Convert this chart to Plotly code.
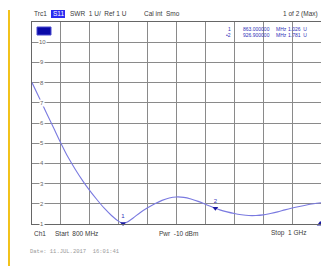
import plotly.graph_objects as go

# ---- data ----
freq_mhz = [800, 805, 810, 815, 820, 825, 830, 835, 840, 845, 850, 855, 860, 863,
            866, 870, 875, 880, 885, 890, 895, 900, 905, 910, 915, 920, 926.9, 930,
            935, 940, 945, 950, 955, 960, 965, 970, 975, 980, 985, 990, 995, 1000]
swr = [8.0, 7.25, 6.5, 5.75, 5.0, 4.3, 3.7, 3.15, 2.65, 2.2, 1.78, 1.42, 1.13, 1.026,
       1.1, 1.3, 1.57, 1.8, 2.0, 2.17, 2.29, 2.34, 2.32, 2.24, 2.12, 1.98, 1.781, 1.7,
       1.6, 1.52, 1.46, 1.42, 1.42, 1.45, 1.52, 1.6, 1.7, 1.79, 1.87, 1.94, 2.0, 2.05]
marker_ids = ["1", "2"]
marker_freq = [863.0, 926.9]
marker_swr = [1.026, 1.781]
marker_freq_text = ["863.000000", "926.900000"]
marker_unit_text = ["MHz", "MHz"]
marker_swr_text = ["1.026  U", "1.781  U"]
y_ticks = [1, 2, 3, 4, 5, 6, 7, 8, 9, 10]
edge_marker_freq = [999.5]
edge_marker_swr = [1.0]

W, H = 321, 266
L, R, T, B = 32, 0, 22, 42
PW, PH = W - L - R, H - T - B


def px(x):
    return (x - L) / PW


def py(y):
    return (H - B - y) / PH


FONT = "Liberation Sans, Arial, sans-serif"
MONO = "Liberation Mono, DejaVu Sans Mono, monospace"
DARK = "#3a3a3a"
BLUE = "#3030b8"

fig = go.Figure()
fig.add_trace(go.Scatter(x=freq_mhz, y=swr, mode="lines",
                         line=dict(color="#7a7ae0", width=1.1, shape="spline", smoothing=0.8),
                         hoverinfo="skip", showlegend=False))
fig.add_trace(go.Scatter(x=marker_freq, y=marker_swr, mode="markers+text",
                         text=marker_ids, textposition="top center",
                         textfont=dict(size=6, color=BLUE, family=FONT),
                         marker=dict(symbol="triangle-down", size=5, color="#1a1aa0"),
                         cliponaxis=False, showlegend=False))
fig.add_trace(go.Scatter(x=edge_marker_freq, y=edge_marker_swr, mode="markers",
                         marker=dict(symbol="triangle-up", size=6, color="#1a1aa0"),
                         cliponaxis=False, showlegend=False))

annotations = []
# y tick labels drawn inside the grid
for v in y_ticks:
    annotations.append(dict(x=px(42), y=v, xref="paper", yref="y", text=str(v),
                            showarrow=False, xanchor="center", yanchor="middle",
                            bgcolor="white", borderpad=0,
                            font=dict(size=6, color="#666666", family=FONT)))
n_tick = len(annotations)
# header / footer
annotations += [
    dict(x=px(32), y=py(14), text="Trc1", xanchor="left"),
    dict(x=px(68), y=py(14), text="SWR  1 U/  Ref 1 U", xanchor="left"),
    dict(x=px(142), y=py(14), text="Cal int  Smo", xanchor="left"),
    dict(x=px(320), y=py(14), text="1 of 2 (Max)", xanchor="right"),
    dict(x=px(32), y=py(233), text="Ch1", xanchor="left"),
    dict(x=px(53), y=py(233), text="Start  800 MHz", xanchor="left"),
    dict(x=px(157), y=py(233), text="Pwr  -10 dBm", xanchor="left"),
    dict(x=px(308), y=py(233), text="Stop  1 GHz", xanchor="right"),
]
for a in annotations[n_tick:]:
    a.update(xref="paper", yref="paper", showarrow=False, yanchor="middle",
             font=dict(size=6.5, color=DARK, family=FONT))
annotations.append(dict(x=px(58), y=py(14), xref="paper", yref="paper", text="S11",
                        showarrow=False, xanchor="center", yanchor="middle",
                        font=dict(size=6.5, color="white", family=FONT)))
annotations.append(dict(x=px(28), y=py(251), xref="paper", yref="paper",
                        text="Date: 11.JUL.2017  16:01:41", showarrow=False,
                        xanchor="left", yanchor="middle",
                        font=dict(size=5.5, color="#9a9a9a", family=MONO)))
# marker table
for i, mid in enumerate(marker_ids):
    yy = py(29 + 6 * i)
    label = mid if i == 0 else "\u2022" + mid
    for xx, txt, anc in [(233, label, "right"), (272, marker_freq_text[i], "right"),
                         (274, marker_unit_text[i], "left"),
                         (309, marker_swr_text[i], "right")]:
        annotations.append(dict(x=px(xx), y=yy, xref="paper", yref="paper", text=txt,
                                showarrow=False, xanchor=anc, yanchor="middle",
                                font=dict(size=5, color=BLUE, family=FONT)))

shapes = [
    dict(type="rect", xref="paper", yref="paper", x0=px(51), x1=px(65), y0=py(18), y1=py(10),
         fillcolor="#2b2bf0", line=dict(width=0), layer="below"),
    dict(type="rect", xref="paper", yref="paper", x0=px(37), x1=px(51), y0=py(35), y1=py(27),
         fillcolor="#0a0aa8", line=dict(color="#4a4ad0", width=1), layer="above"),
    dict(type="line", xref="paper", yref="paper", x0=px(9), x1=px(9), y0=py(10), y1=py(266),
         line=dict(color="#f2c21b", width=2)),
]

fig.update_layout(
    width=W, height=H,
    margin=dict(l=L, r=R, t=T, b=B, pad=0),
    paper_bgcolor="white", plot_bgcolor="white",
    showlegend=False,
    annotations=annotations, shapes=shapes,
    xaxis=dict(range=[800, 1000], dtick=20, tick0=800, showticklabels=False,
               showgrid=True, gridcolor="#8a8a8a", gridwidth=1, zeroline=False,
               showline=True, linecolor="#666666", linewidth=1, mirror=True, ticks=""),
    yaxis=dict(range=[1, 11], dtick=1, tick0=1, showticklabels=False,
               showgrid=True, gridcolor="#8a8a8a", gridwidth=1, zeroline=False,
               showline=True, linecolor="#666666", linewidth=1, mirror=True, ticks=""),
)

fig.write_html("out.html", config={"displayModeBar": False},
               post_script="document.body.style.margin='0';document.body.style.overflow='hidden';")
